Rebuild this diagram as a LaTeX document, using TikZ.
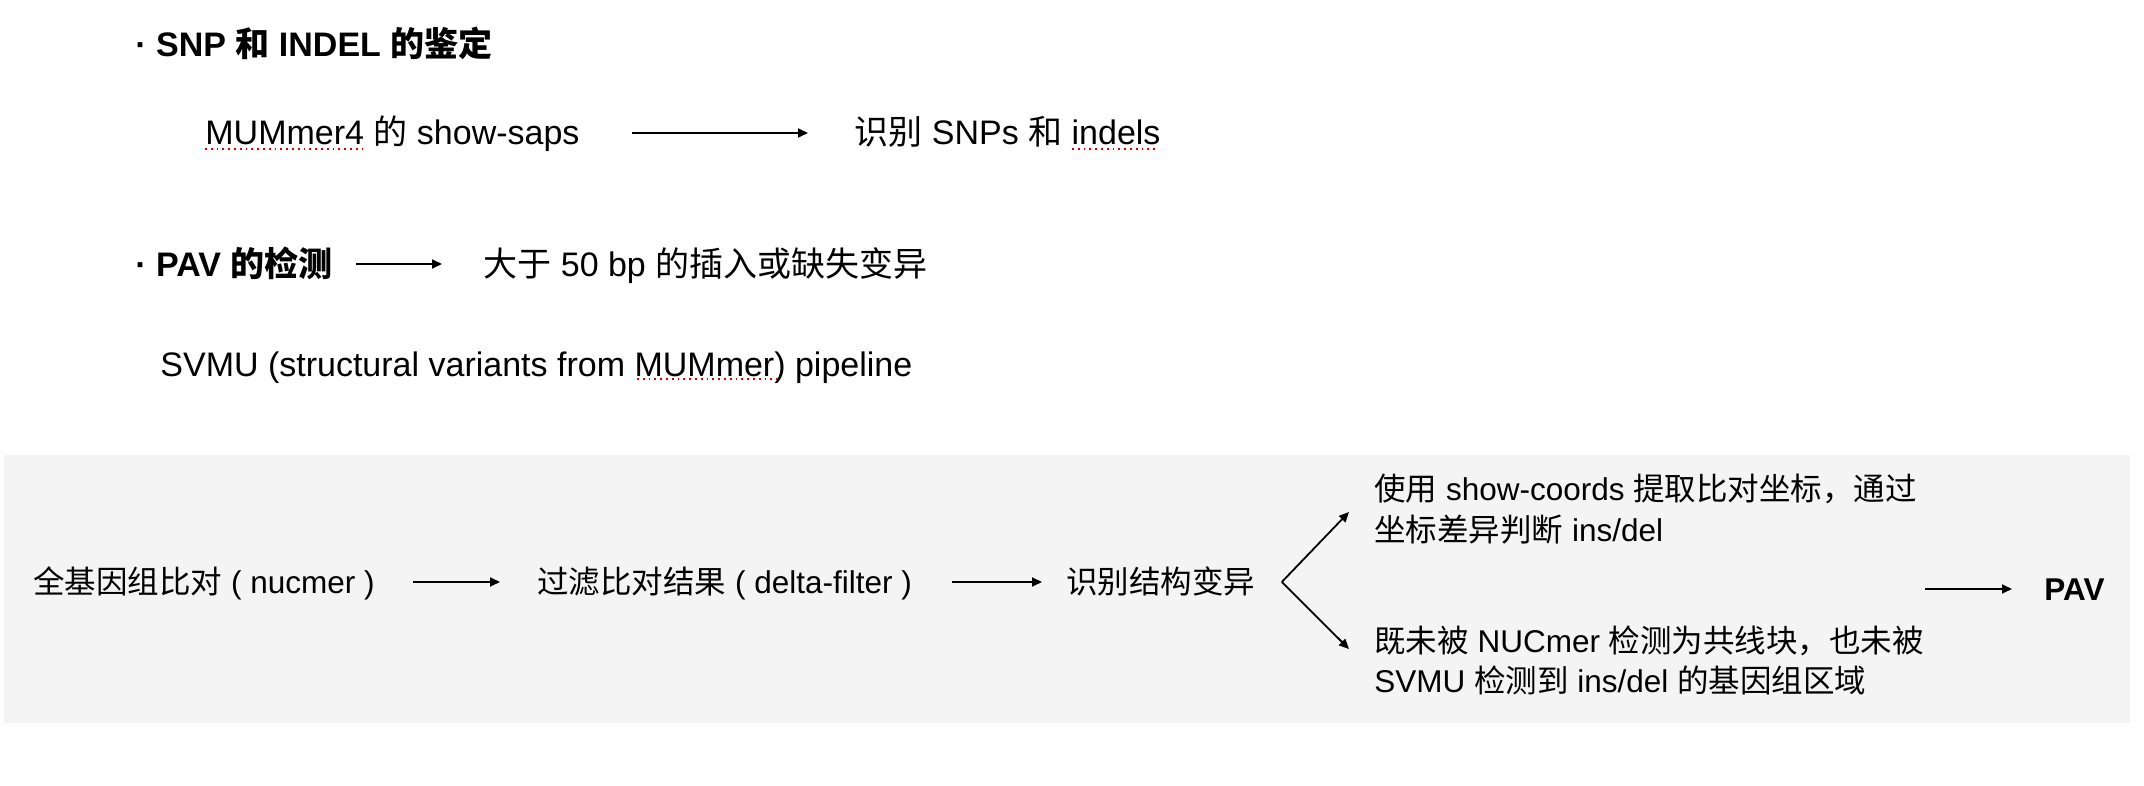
\documentclass[tikz,border=0pt]{standalone}
\usepackage{fontspec}
\setmainfont{Liberation Sans}
\newfontfamily\cjk{Noto Sans CJK SC}
\usetikzlibrary{arrows.meta}
\definecolor{panel}{RGB}{244,244,244}
\newcommand\zh[1]{{\cjk #1}}
\tikzset{
  txtA/.style={font=\fontsize{17}{20}\selectfont, anchor=base west, inner sep=0pt},
  txtT/.style={txtA, font=\fontsize{17}{20}\selectfont\bfseries},
  txtB/.style={font=\fontsize{15.75}{20}\selectfont, anchor=base west, inner sep=0pt},
  arr/.style={-{Triangle[length=5pt,width=4.5pt]}, line width=0.9pt},
  spell/.style={red!85!black, dotted, line width=0.9pt}
}
\begin{document}
\begin{tikzpicture}[x=0.5pt,y=-0.5pt]
\useasboundingbox (0,0) rectangle (2144,786);
\fill[panel] (4,455) rectangle (2130,723);

% SNP section
\node[txtT] (t1) at (135,57) {·~SNP \zh{和} INDEL \zh{的鉴定}};
\node[txtA] (mum) at (205,145) {MUMmer4 \zh{的} show-saps};
\node[txtA] (snp) at (854,145) {\zh{识别} SNPs \zh{和} indels};
\draw[arr] ([shift={(26pt,6pt)}]mum.base east) -- ([shift={(-23pt,6pt)}]snp.base west);
\draw[spell] (205,149) -- (367,149);
\draw[spell] (1072,149) -- (1156,149);

% PAV section
\node[txtT] (t2) at (135,277) {·~PAV \zh{的检测}};
\node[txtA] (big) at (483,277) {\zh{大于} 50 bp \zh{的插入或缺失变异}};
\draw[arr] ([shift={(11.5pt,6.5pt)}]t2.base east) -- ([shift={(-20.5pt,6.5pt)}]big.base west);
\node[txtA] (svmu) at (160,377) {SVMU (structural variants from MUMmer) pipeline};
\draw[spell] (637,379) -- (779,379);

% pipeline
\node[txtB] (n1) at (33,593) {\zh{全基因组比对} ( nucmer )};
\node[txtB] (n2) at (537,593) {\zh{过滤比对结果} ( delta-filter )};
\node[txtB] (n3) at (1066,593) {\zh{识别结构变异}};
\draw[arr] ([shift={(19pt,5.5pt)}]n1.base east) -- ([shift={(-18.5pt,5.5pt)}]n2.base west);
\draw[arr] ([shift={(20pt,5.5pt)}]n2.base east) -- ([shift={(-12pt,5.5pt)}]n3.base west);

\node[txtB] (up1) at (1374,501) {\zh{使用} show-coords \zh{提取比对坐标，通过}};
\node[txtB] (up2) at (1374,541) {\zh{坐标差异判断} ins/del};
\node[txtB] (lo1) at (1374,652) {\zh{既未被} NUCmer \zh{检测为共线块，也未被}};
\node[txtB] (lo2) at (1374,692) {SVMU \zh{检测到} ins/del \zh{的基因组区域}};

\coordinate (split) at ([shift={(13pt,5.5pt)}]n3.base east);
\draw[arr] (split) -- ([shift={(-12.5pt,-5.5pt)}]up1.base west);
\draw[arr] (split) -- ([shift={(-12.5pt,1.5pt)}]lo1.base west);

\node[txtB, font=\fontsize{15.75}{20}\selectfont\bfseries] (pav) at (2044,600) {PAV};
\draw[arr] ([shift={(-59.5pt,5.5pt)}]pav.base west) -- ([shift={(-16pt,5.5pt)}]pav.base west);
\end{tikzpicture}
\end{document}
